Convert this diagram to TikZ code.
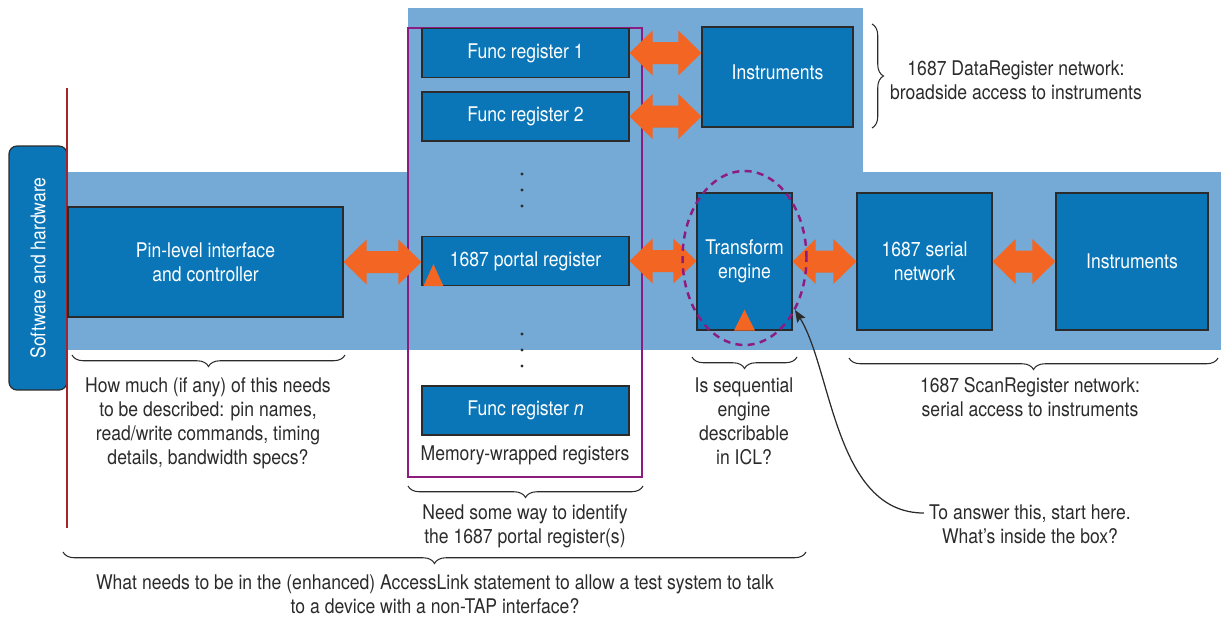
\documentclass[tikz,border=0pt]{standalone}
\usepackage{fontspec}
\setmainfont[FakeStretch=0.87]{TeX Gyre Heros}
\usepackage{tikz}
\usetikzlibrary{arrows.meta,calc,decorations.pathreplacing,shapes.geometric}

\definecolor{bandblue}{HTML}{75A9D6}
\definecolor{boxblue}{HTML}{0A76B8}
\definecolor{fatorange}{HTML}{F26522}
\definecolor{wrapviolet}{HTML}{8E1B80}
\definecolor{rulered}{HTML}{A3262D}
\definecolor{inkgray}{HTML}{2B2B2B}

% ---- fat two-way arrow: #1 left tip, #2 right tip ----
\newcommand{\fatarrow}[2]{%
  \fill[fatorange] (#1) -- ++(0.46cm,0.45cm) -- ++(0,-0.23cm)
    -- ($(#2)+(-0.46cm,0.22cm)$) -- ++(0,0.23cm) -- (#2)
    -- ++(-0.46cm,-0.45cm) -- ++(0,0.23cm)
    -- ($(#1)+(0.46cm,-0.22cm)$) -- ++(0,-0.23cm) -- cycle;}

\begin{document}
\begin{tikzpicture}[
  x=0.02cm, y=-0.02cm,
  font=\fontsize{11.5}{13.6}\selectfont,
  blk/.style={draw=inkgray, line width=0.7pt, fill=boxblue, text=white,
              align=center, inner sep=1pt},
  reg/.style={blk, minimum width=4.14cm, minimum height=0.98cm},
  note/.style={text=inkgray, align=center, inner sep=0pt},
  brc/.style={draw=inkgray, line width=0.6pt, decorate,
              decoration={brace, amplitude=0.23cm}},
  callout/.style={draw=inkgray, line width=0.7pt,
                  -{Stealth[length=0.24cm,width=0.19cm,inset=0.04cm]}},
]
\useasboundingbox (0,0) rectangle (1221,616);

% ---- light blue bands ----
\fill[bandblue] (408,8) rectangle (863,350);
\fill[bandblue] (67,172) rectangle (1221,350);

% ---- side tab and rule ----
\node[blk, rotate=90, minimum width=4.88cm, minimum height=1.16cm,
      rounded corners=0.16cm] (sw) at (38,268) {Software and hardware};
\draw[rulered, line width=1.1pt] (67,88) -- (67,528);

% ---- blocks ----
\node[blk, minimum width=5.5cm, minimum height=2.2cm] (pin) at (205.5,262)
  {Pin-level interface\\and controller};
\node[draw=wrapviolet, line width=1.2pt, minimum width=4.68cm,
      minimum height=8.98cm] (wrap) at (525,252.5) {};
\node[reg] (f1) at (525.5,53) {Func register 1};
\node[reg] (f2) at (525.5,116.5) {Func register 2};
\node[reg] (portal) at (525.5,261) {1687 portal register};
\node[reg] (fn) at (525.5,410.5) {Func register \textit{n}};
\node[note] (memlbl) at (525,455) {Memory-wrapped registers};
\node[blk, minimum width=3.02cm, minimum height=2cm] (inst1) at (777.5,77)
  {Instruments\\[-0.3cm]};
\node[blk, minimum width=1.9cm, minimum height=2.74cm] (te) at (744.5,261.5)
  {Transform\\engine};
\node[blk, minimum width=2.7cm, minimum height=2.74cm] (ser) at (924.5,261.5)
  {1687 serial\\network};
\node[blk, minimum width=3.04cm, minimum height=2.74cm] (inst2) at (1132,261.5)
  {Instruments};

% dots between the registers
\foreach \yy in {174,190,206,334,350,366}
  \fill[inkgray] (522,\yy) circle (0.032cm);

% ---- fat two-way arrows ----
\fatarrow{pin.east}{pin.east -| portal.west}
\fatarrow{f1.east}{f1.east -| inst1.west}
\fatarrow{f2.east}{f2.east -| inst1.west}
\fatarrow{portal.east}{portal.east -| te.west}
\fatarrow{te.east}{ser.west}
\fatarrow{ser.east}{inst2.west}

% small markers
\fill[fatorange] ([xshift=0.04cm]portal.south west) -- ++(0.4cm,0) -- ++(-0.2cm,0.44cm) -- cycle;
\fill[fatorange] ([xshift=-0.21cm]te.south) -- ++(0.42cm,0) -- ++(-0.21cm,0.42cm) -- cycle;

% dashed ring round the engine
\node[ellipse, draw=wrapviolet, line width=1.4pt, dash pattern=on 4pt off 3pt,
      minimum width=2.48cm, minimum height=3.48cm, inner sep=0pt] (ring) at (744.5,258) {};

% ---- braces and notes ----
\draw[brc] (872,24) -- (872,128);
\node[note] (data) at (1016,80) {1687 DataRegister network:\\broadside access to instruments};

\draw[brc] (345,355) -- (72,355);
\node[note] (howmuch) at (208,423.5) {How much (if any) of this needs\\to be described: pin names,\\read/write commands, timing\\details, bandwidth specs?};

\draw[brc] (797,357) -- (692,357);
\node[note] (seq) at (744,421.5) {Is sequential\\engine\\describable\\in ICL?};

\draw[brc] (1218,358) -- (849,358);
\node[note] (scan) at (1030,397) {1687 ScanRegister network:\\serial access to instruments};

\draw[brc] (643,486) -- (408,486);
\node[note] (need) at (525,526) {Need some way to identify\\the 1687 portal register(s)};

\draw[brc] (806,552) -- (63,552);
\node[note] (link) at (435,594) {What needs to be in the (enhanced) AccessLink statement to allow a test system to talk\\to a device with a non-TAP interface?};

\node[note] (answer) at (1030,524) {To answer this, start here.\\What’s inside the box?};
\coordinate (peek) at (795,310);
\draw[callout] ([xshift=-0.1cm,yshift=0.22cm]answer.west)
  .. controls (835,513) and (832,370) .. (peek);

\end{tikzpicture}
\end{document}
